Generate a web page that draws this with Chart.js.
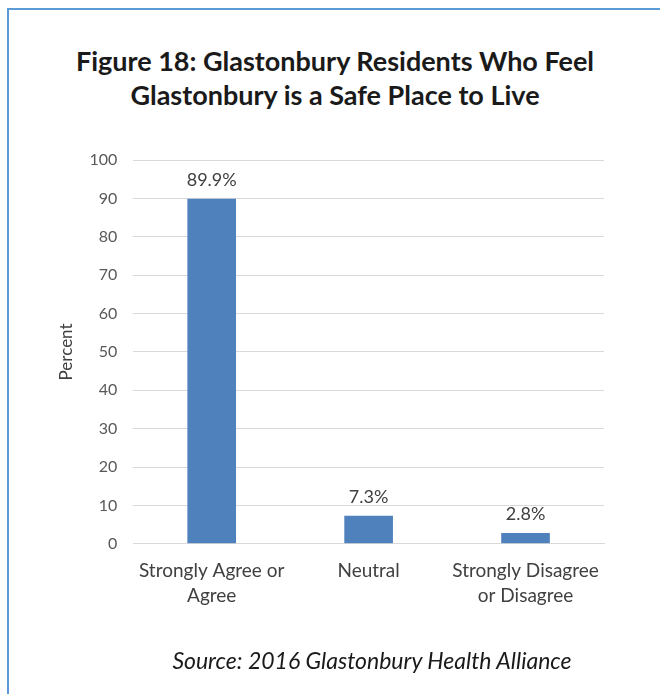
<!DOCTYPE html>
<html>
<head>
<meta charset="utf-8">
<script src="https://cdn.jsdelivr.net/npm/chart.js@4.4.1/dist/chart.umd.min.js"></script>
<style>
  html, body { margin: 0; padding: 0; background: #fff; }
  #frame {
    position: absolute; left: 7px; top: 8px; width: 700px; height: 720px;
    border-left: 2px solid #5b9bd5; border-top: 2px solid #5b9bd5;
  }
  #wrap { position: absolute; left: 0; top: 0; width: 660px; height: 694px; }
  .caption {
    position: absolute; text-align: center; color: #1a1a1a;
    font-family: Lato, "Open Sans", sans-serif;
  }
  #heading { left: 35px; top: 44px; width: 600px; font-size: 27px; font-weight: bold; line-height: 34px; }
  #source { left: 122px; top: 645px; width: 500px; font-size: 23px; font-style: italic; line-height: 30px; }
</style>
</head>
<body>
<div id="frame"></div>
<div class="caption" id="heading">Figure 18: Glastonbury Residents Who Feel<br>Glastonbury is a Safe Place to Live</div>
<div id="wrap"><canvas id="safeChart"></canvas></div>
<div class="caption" id="source">Source: 2016 Glastonbury Health Alliance</div>
<script>
// Survey responses and their shares
const categories = [['Strongly Agree or', 'Agree'], 'Neutral', ['Strongly Disagree', 'or Disagree']];
const percents = [89.9, 7.3, 2.8];
const yTicks = [0, 10, 20, 30, 40, 50, 60, 70, 80, 90, 100];

const FONT = 'Lato, "Open Sans", sans-serif';

// Writes "xx.x%" above each bar
const valueLabels = {
  id: 'valueLabels',
  afterDatasetsDraw(chart) {
    const ctx = chart.ctx;
    const meta = chart.getDatasetMeta(0);
    ctx.save();
    ctx.font = '18px ' + FONT;
    ctx.fillStyle = '#404040';
    ctx.textAlign = 'center';
    ctx.textBaseline = 'middle';
    meta.data.forEach((bar, i) => {
      ctx.fillText(percents[i].toFixed(1) + '%', bar.x, bar.y - 19);
    });
    ctx.restore();
  }
};

new Chart(document.getElementById('safeChart'), {
  type: 'bar',
  data: {
    labels: categories,
    datasets: [{
      data: percents,
      backgroundColor: '#4f81bd',
      barPercentage: 0.62,
      categoryPercentage: 0.5
    }]
  },
  options: {
    responsive: true,
    maintainAspectRatio: false,
    animation: false,
    layout: { padding: { left: 52, right: 56, top: 160, bottom: 80 } },
    plugins: {
      legend: { display: false },
      tooltip: { enabled: false }
    },
    scales: {
      x: {
        grid: { display: false },
        border: { color: '#d9d9d9' },
        ticks: {
          color: '#404040',
          font: { family: FONT, size: 19, lineHeight: 1.32 },
          maxRotation: 0,
          padding: 6
        }
      },
      y: {
        min: 0,
        max: 100,
        afterBuildTicks(axis) { axis.ticks = yTicks.map(v => ({ value: v })); },
        grid: { color: '#d9d9d9', drawTicks: false },
        border: { display: false },
        ticks: {
          color: '#595959',
          font: { family: FONT, size: 16 },
          padding: 16
        },
        title: {
          display: true,
          text: 'Percent',
          color: '#404040',
          font: { family: FONT, size: 17 },
          padding: { top: 4, bottom: -3 }
        }
      }
    }
  },
  plugins: [valueLabels]
});
</script>
</body>
</html>
